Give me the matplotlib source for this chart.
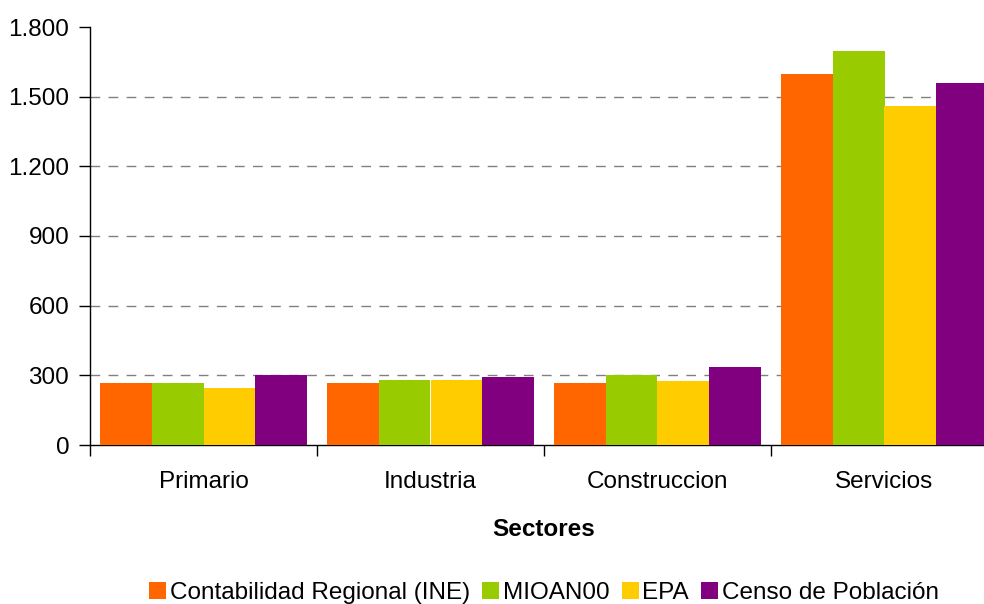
import matplotlib

matplotlib.use("Agg")
import matplotlib.pyplot as plt  # noqa: E402
import numpy as np  # noqa: E402
from matplotlib.ticker import FuncFormatter  # noqa: E402

sectores = ["Primario", "Industria", "Construccion", "Servicios"]
series = ["Contabilidad Regional (INE)", "MIOAN00", "EPA", "Censo de Población"]
contabilidad = [267, 267, 267, 1598]
mioan00 = [267, 280, 301, 1697]
epa = [245, 280, 276, 1460]
censo = [301, 293, 336, 1559]
colores = ["#FF6600", "#99CC00", "#FFCC00", "#800080"]

plt.rcParams["font.family"] = ["Liberation Sans", "DejaVu Sans"]
FS = 17.5

fig = plt.figure(figsize=(9.84, 6.04), dpi=100)
# axes runs a bit past the right edge, as in the original export
ax = fig.add_axes([90 / 984, 1 - 445 / 604, 908 / 984, 418 / 604])

x = np.arange(len(sectores))
w = 0.228
for k, (vals, name, col) in enumerate(zip([contabilidad, mioan00, epa, censo], series, colores)):
    ax.bar(x + (k - 1.5) * w, vals, width=w, color=col, label=name, zorder=3)

ax.set_xlim(-0.5, len(sectores) - 0.5)
ax.set_ylim(0, 1800)
ax.set_yticks(range(0, 1801, 300))
ax.yaxis.set_major_formatter(FuncFormatter(lambda v, _: f"{int(v):,}".replace(",", ".")))
for yv in range(300, 1800, 300):
    ax.axhline(yv, color="#808080", lw=1, ls=(0, (7, 6)), zorder=1)

ax.set_xticks(x)
ax.set_xticklabels(sectores)
ax.set_xticks(np.arange(-0.5, len(sectores), 1), minor=True)
ax.tick_params(axis="x", which="major", length=0, pad=19, labelsize=FS)
ax.tick_params(axis="x", which="minor", length=8, width=1)
ax.tick_params(axis="y", length=8, width=1, pad=7, labelsize=FS, direction="out")

for s in ["top", "right"]:
    ax.spines[s].set_visible(False)
ax.spines["left"].set_linewidth(1)
ax.spines["bottom"].set_linewidth(1)

ax.set_xlabel("Sectores", fontsize=FS, fontweight="bold", labelpad=18)

fig.legend(loc="center", bbox_to_anchor=(544 / 984, 1 - 593 / 604), ncol=4,
           frameon=False, fontsize=FS, handlelength=0.7, handleheight=0.7,
           handletextpad=0.15, columnspacing=0.5)

fig.savefig("out.png", dpi=100)
